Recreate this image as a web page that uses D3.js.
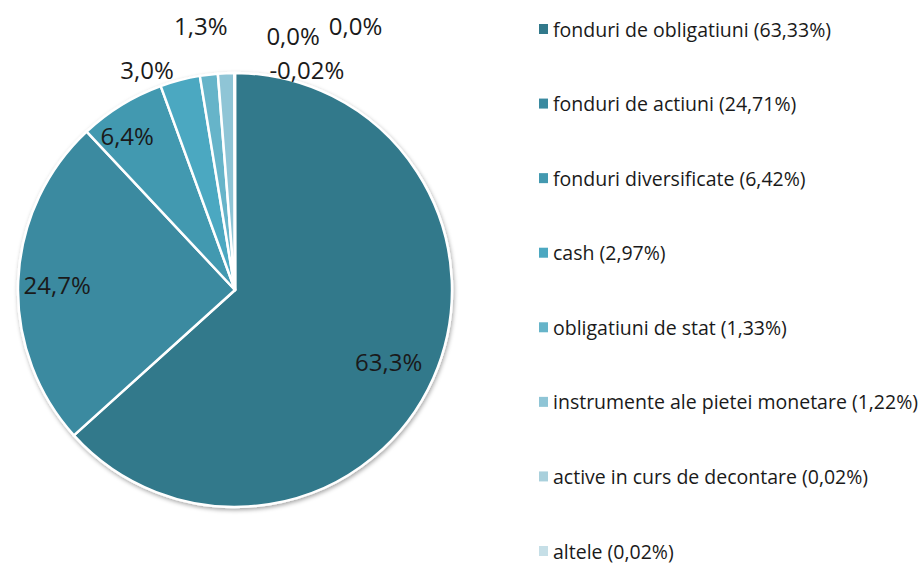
<!DOCTYPE html>
<html><head><meta charset="utf-8">
<script src="https://cdn.jsdelivr.net/npm/d3@7"></script>
<style>body{margin:0;background:#fff}svg{display:block}</style>
</head><body>
<svg id="c" width="921" height="563"></svg>
<script>
const categories = ["fonduri de obligatiuni","fonduri de actiuni","fonduri diversificate","cash","obligatiuni de stat","instrumente ale pietei monetare","active in curs de decontare","altele"];
const values = [63.33,24.71,6.42,2.97,1.33,1.22,0.02,0.02];
const legendLabels = ["fonduri de obligatiuni (63,33%)","fonduri de actiuni (24,71%)","fonduri diversificate (6,42%)","cash (2,97%)","obligatiuni de stat (1,33%)","instrumente ale pietei monetare (1,22%)","active in curs de decontare (0,02%)","altele (0,02%)"];
const sliceLabels = ["63,3%","24,7%","6,4%","3,0%","1,3%","0,0%","0,0%","-0,02%"];
const colors = ["#32798B","#3A8AA0","#4399B0","#4CA8C1","#66B4C9","#8FC5D6","#A9D0DC","#C6DFE7"];

// label placement: radius factor and pixel offsets (style/layout only)
const labelR = [0.78,0.82,0.87,1.0,1.0,1.0,1.0,1.0];
const labelDx = [-1,0,-9,-33,-8,67,121,72];
const labelDy = [3,2,6,-11,-49,-38,-48,-4];

const svg = d3.select("#c");
const cx = 235, cy = 290, R = 217;
const defs = svg.append("defs");
const f = defs.append("filter").attr("id","sh").attr("x","-10%").attr("y","-10%").attr("width","120%").attr("height","120%");
f.append("feDropShadow").attr("dx",1).attr("dy",2).attr("stdDeviation",2).attr("flood-color","#000").attr("flood-opacity",0.35);

const pie = d3.pie().sort(null).value(d=>d)(values);
const arc = d3.arc().innerRadius(0).outerRadius(R);
const g = svg.append("g").attr("transform",`translate(${cx},${cy})`);
g.append("g").attr("filter","url(#sh)").selectAll("path").data(pie).join("path")
  .attr("d",arc).attr("fill",(d,i)=>colors[i]).attr("stroke","#fff").attr("stroke-width",2.5).attr("stroke-linejoin","round");

g.selectAll("text").data(pie).join("text")
  .attr("transform",(d,i)=>{
    const a=(d.startAngle+d.endAngle)/2, r=R*labelR[i];
    return `translate(${Math.sin(a)*r+labelDx[i]},${-Math.cos(a)*r+labelDy[i]})`;})
  .attr("text-anchor","middle").attr("dominant-baseline","central")
  .attr("font-family","'Open Sans', sans-serif").attr("font-size",24).attr("fill","#1a1a1a")
  .text((d,i)=>sliceLabels[i]);

const y = d3.scalePoint().domain(categories).range([29,551]);
const lg = svg.append("g").selectAll("g").data(categories).join("g").attr("transform",d=>`translate(539,${y(d)})`);
lg.append("rect").attr("x",0).attr("y",-5).attr("width",9).attr("height",10).attr("fill",(d,i)=>colors[i]);
lg.append("text").attr("x",14).attr("y",0).attr("dominant-baseline","central")
  .attr("font-family","'Open Sans', sans-serif").attr("font-size",19.5).attr("fill","#1a1a1a")
  .text((d,i)=>legendLabels[i]);
</script>
</body></html>
